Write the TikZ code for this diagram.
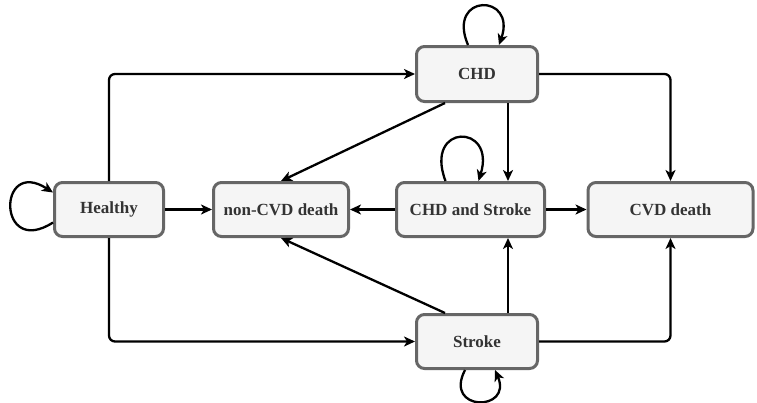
\documentclass[tikz,border=0pt]{standalone}
\usepackage{fontspec}
\setmainfont{Liberation Serif}
\usetikzlibrary{arrows.meta,calc}
\begin{document}
\begin{tikzpicture}[x=1pt,y=-1pt,
  state/.style={draw=black!60, line width=3pt, fill=black!4, rounded corners=8pt,
    minimum height=54pt, font=\fontsize{17}{19}\selectfont\bfseries, text=black!80, inner sep=0pt},
  conn/.style={line width=2.3pt, rounded corners=6pt, -{Stealth[length=11pt,width=10pt,inset=3pt]}},
  loop/.style={conn, sharp corners}
]
\useasboundingbox (0,0) rectangle (757,402);
\node[state, minimum width=109pt] (H) at (109,209.5) {Healthy};
\node[state, minimum width=135pt] (NC) at (281,209.5) {non-CVD death};
\node[state, minimum width=148pt] (CS) at (470.5,209.5) {CHD and Stroke};
\node[state, minimum width=165pt] (CVD) at (670.5,209.5) {CVD death};
\node[state, minimum width=121pt, minimum height=55pt] (CHD) at (477,74) {CHD};
\node[state, minimum width=121pt] (S) at (477,341.5) {Stroke};

% straight connectors
\draw[conn] (H.east) -- (NC.west);
\draw[conn] (CS.west) -- (NC.east);
\draw[conn] (CS.east) -- (CVD.west);
\draw[conn] (H.north) |- (CHD.west);
\draw[conn] (H.south) |- (S.west);
\draw[conn] (CHD.east) -| (CVD.north);
\draw[conn] (S.east) -| (CVD.south);
\draw[conn] ([xshift=31pt]CHD.south) -- ([xshift=31pt]CHD.south |- CS.north);
\draw[conn] ([xshift=31pt]S.north) -- ([xshift=31pt]S.north |- CS.south);
\draw[conn] ([xshift=-32pt]CHD.south) -- (NC.north);
\draw[conn] ([xshift=-32pt]S.north) -- (NC.south);

% self loops
\draw[loop] ([yshift=-13pt]H.west) .. controls +(-56,36) and +(-56,-36) .. ([yshift=17pt]H.west);
\draw[loop] ([xshift=-9pt]CHD.north) .. controls +(-22,-52) and +(18,-52) .. ([xshift=22pt]CHD.north);
\draw[loop] ([xshift=-25pt]CS.north) .. controls +(-22,-58) and +(18,-58) .. ([xshift=8pt]CS.north);
\draw[loop] ([xshift=-12pt]S.south) .. controls +(-22,42) and +(18,42) .. ([xshift=18pt]S.south);
\end{tikzpicture}
\end{document}
